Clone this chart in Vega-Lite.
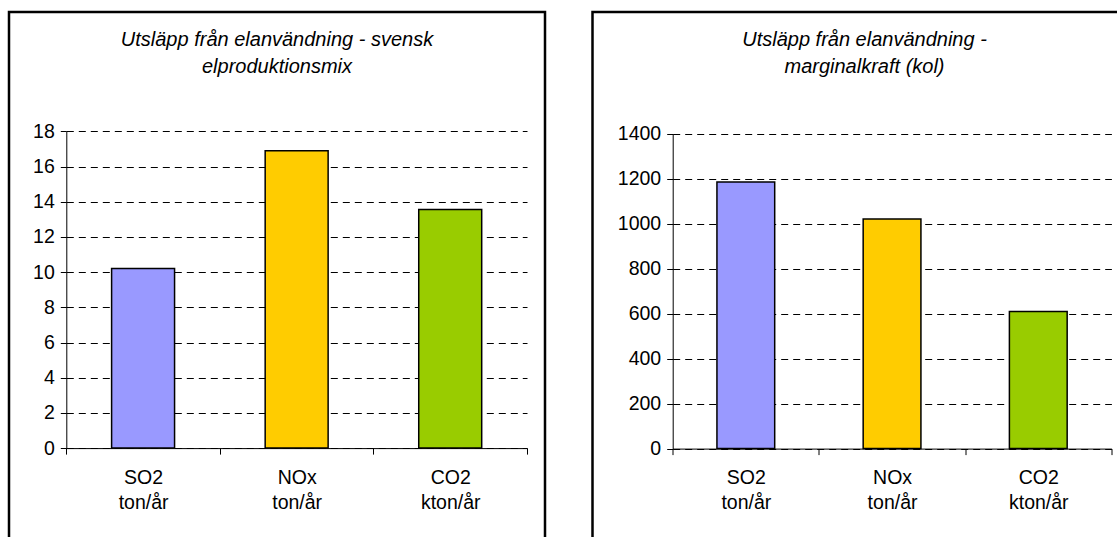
{
  "$schema": "https://vega.github.io/schema/vega-lite/v6.json",
  "background": "white",
  "padding": {"left": 7, "top": 10, "right": 0, "bottom": 0},
  "spacing": 43.5,
  "config": {
    "font": "Liberation Sans",
    "view": {"stroke": "#000", "strokeWidth": 2.5},
    "title": {
      "font": "Liberation Sans",
      "fontSize": 20,
      "fontStyle": "italic",
      "fontWeight": "normal",
      "color": "#000",
      "anchor": "middle",
      "frame": "group",
      "baseline": "top",
      "lineHeight": 27,
      "offset": -65
    },
    "axis": {
      "title": null,
      "domainColor": "#000",
      "domainWidth": 1,
      "tickColor": "#000",
      "tickWidth": 1,
      "tickSize": 6,
      "labelFont": "Liberation Sans",
      "labelFontSize": 19.5,
      "labelColor": "#000"
    },
    "axisY": {
      "grid": true,
      "gridColor": "#000",
      "gridWidth": 1,
      "gridDash": [7, 5],
      "labelPadding": 6,
      "format": "d"
    },
    "axisX": {
      "grid": false,
      "labelAngle": 0,
      "labelBaseline": "top",
      "labelPadding": 14,
      "labelLineHeight": 25,
      "tickBand": "extent",
      "labelExpr": "isString(datum.value) ? split(datum.value, ' ') : ''"
    }
  },
  "resolve": {"scale": {"x": "independent", "y": "independent", "color": "shared"}},
  "hconcat": [
    {
      "width": 536,
      "height": 540,
      "title": {"text": ["Utsläpp från elanvändning - svensk", "elproduktionsmix"]},
      "data": {
        "values": [
          {"amne": "SO2 ton/år", "utslapp": 10.2},
          {"amne": "NOx ton/år", "utslapp": 16.9},
          {"amne": "CO2 kton/år", "utslapp": 13.55}
        ]
      },
      "mark": {"type": "bar", "width": {"band": 0.41}, "stroke": "#000", "strokeWidth": 1.5},
      "encoding": {
        "x": {
          "field": "amne",
          "type": "nominal",
          "sort": null,
          "scale": {"range": [57.3, 518], "paddingInner": 0, "paddingOuter": 0},
          "axis": {"offset": -103.9}
        },
        "y": {
          "field": "utslapp",
          "type": "quantitative",
          "scale": {"domain": [0, 18], "range": [436.1, 119.3], "nice": false},
          "axis": {"values": [0, 2, 4, 6, 8, 10, 12, 14, 16, 18], "offset": -57.3}
        },
        "color": {
          "field": "amne",
          "type": "nominal",
          "scale": {
            "domain": ["SO2 ton/år", "NOx ton/år", "CO2 kton/år"],
            "range": ["#9999FF", "#FFCC00", "#99CC00"]
          },
          "legend": null
        }
      }
    },
    {
      "width": 544,
      "height": 540,
      "title": {"text": ["Utsläpp från elanvändning -", "marginalkraft (kol)"]},
      "data": {
        "values": [
          {"amne": "SO2 ton/år", "utslapp": 1185},
          {"amne": "NOx ton/år", "utslapp": 1020},
          {"amne": "CO2 kton/år", "utslapp": 609}
        ]
      },
      "mark": {"type": "bar", "width": {"band": 0.395}, "stroke": "#000", "strokeWidth": 1.5},
      "encoding": {
        "x": {
          "field": "amne",
          "type": "nominal",
          "sort": null,
          "scale": {"range": [80.2, 518.9], "paddingInner": 0, "paddingOuter": 0},
          "axis": {"offset": -103.4}
        },
        "y": {
          "field": "utslapp",
          "type": "quantitative",
          "scale": {"domain": [0, 1400], "range": [436.6, 121.6], "nice": false},
          "axis": {"values": [0, 200, 400, 600, 800, 1000, 1200, 1400], "offset": -80.2}
        },
        "color": {
          "field": "amne",
          "type": "nominal",
          "scale": {
            "domain": ["SO2 ton/år", "NOx ton/år", "CO2 kton/år"],
            "range": ["#9999FF", "#FFCC00", "#99CC00"]
          },
          "legend": null
        }
      }
    }
  ]
}
